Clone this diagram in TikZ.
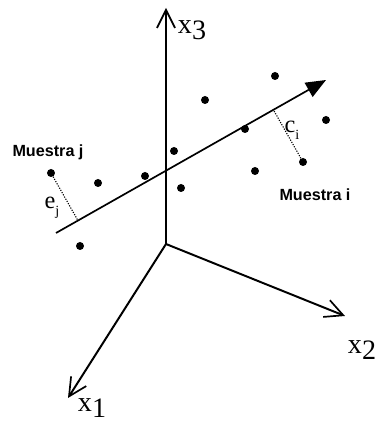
\documentclass[tikz,border=0pt]{standalone}
\usepackage{fontspec}
\setmainfont{Liberation Serif}
\setsansfont{Liberation Sans}
\usetikzlibrary{arrows.meta,calc}

\begin{document}
\begin{tikzpicture}[every node/.style={font=\fontsize{20}{24}\selectfont},
    axis/.style={line width=1.4pt,-{Straight Barb[length=4.5mm,width=4.5mm,line width=1.2pt]}},
    dot/.style={circle,fill=black,inner sep=0pt,minimum size=2mm},
    sample/.style={font=\sffamily\bfseries\fontsize{11.5}{13}\selectfont}]
    \useasboundingbox (0,0) rectangle (9.5,10.7);
    % ejes
    \coordinate (O) at (4.15,4.6);
    \coordinate (e1) at (1.7,0.75);
    \coordinate (e2) at (8.625,2.8);
    \coordinate (e3) at (4.15,10.5);
    \draw[axis] (O) -- (e3);
    \draw[axis] (O) -- (e2);
    \draw[axis] (O) -- (e1);
    \node (lx3) at (4.8,9.95) {x\raisebox{-0.45ex}{3}};
    \node (lx2) at (9.05,1.95) {x\raisebox{-0.45ex}{2}};
    \node (lx1) at (2.3,0.5) {x\raisebox{-0.45ex}{1}};
    % componente principal
    \coordinate (a) at (1.4,4.875);
    \coordinate (b) at (8.15,8.7);
    \draw[line width=1.2pt,-{Triangle[length=5mm,width=4mm]}] (a) -- (b);
    % muestras
    \foreach \n/\x/\y in {p1/6.875/8.8, p2/5.125/8.2, p3/8.15/7.7, p4/6.125/7.475,
        p5/4.35/6.925, p6/6.375/6.425, p7/3.625/6.3, p8/2.45/6.125,
        p9/4.525/6.0, p10/2.0/4.55, pi/7.575/6.65, pj/1.275/6.375}{
      \node[dot] (\n) at (\x,\y) {};
    }
    \coordinate (fi) at ($(a)!(pi)!(b)$);
    \coordinate (fj) at ($(a)!(pj)!(b)$);
    \draw[densely dotted,thick] (pi) -- (fi);
    \draw[densely dotted,thick] (pj) -- (fj);
    \node[sample] (mj) at (1.2,6.9) {Muestra j};
    \node[sample] (mi) at (7.875,5.825) {Muestra i};
    \node[font=\LARGE] (ej) at (1.3,5.5) {e\raisebox{-0.6ex}{\normalsize j}};
    \node[font=\LARGE] (ci) at (7.3,7.45) {c\raisebox{-0.6ex}{\normalsize i}};
\end{tikzpicture}
\end{document}
